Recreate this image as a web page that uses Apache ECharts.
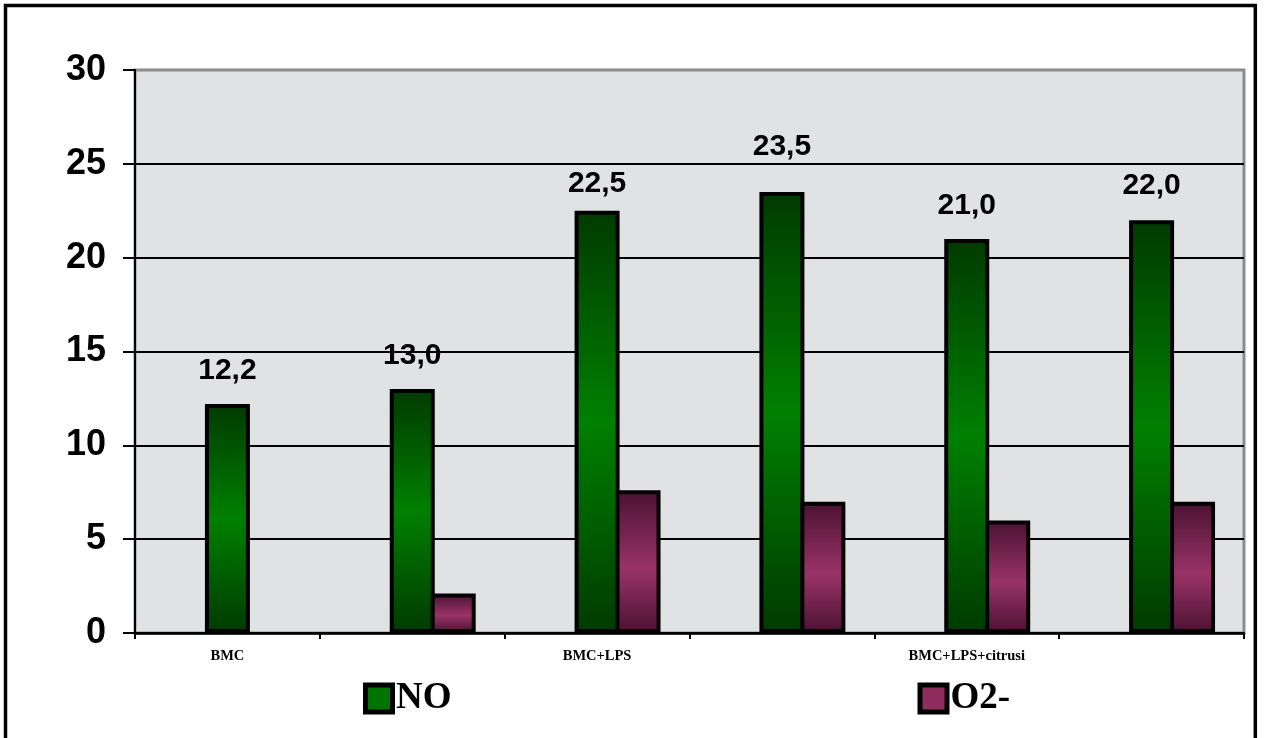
<!DOCTYPE html>
<html>
<head>
<meta charset="utf-8">
<title>NO / O2-</title>
<script src="https://cdn.jsdelivr.net/npm/echarts@6/dist/echarts.min.js"></script>
<style>
  html, body { margin: 0; padding: 0; background: #ffffff; }
  #chart { width: 1265px; height: 738px; }
</style>
</head>
<body>
<div id="chart"></div>
<script>
// Groups along the x axis (only every other one carries a caption)
const categories = ['BMC', '', 'BMC+LPS', '', 'BMC+LPS+citrusi', ''];
// Measured levels per group
const noValues = [12.2, 13.0, 22.5, 23.5, 21.0, 22.0];
const o2Values = ['-', 2.1, 7.6, 7.0, 6.0, 7.0];
// Value axis ticks
const yTicks = [0, 5, 10, 15, 20, 25, 30];
// Extra lift (px) of individual NO value labels
const noLabelLift = [0, 0, -6, 12, 0, 1];

const SANS = "'Liberation Sans', Arial, sans-serif";
const SERIF = "'Liberation Serif', 'Times New Roman', serif";

const greenFill = new echarts.graphic.LinearGradient(0, 0, 0, 1, [
  { offset: 0, color: '#003a00' },
  { offset: 0.5, color: '#008000' },
  { offset: 1, color: '#003a00' }
]);
const purpleFill = new echarts.graphic.LinearGradient(0, 0, 0, 1, [
  { offset: 0, color: '#4a1232' },
  { offset: 0.55, color: '#993366' },
  { offset: 1, color: '#4a1232' }
]);

const fmt = v => Number(v).toFixed(1).replace('.', ',');

const BAR_W = 45;
const BAR_GAP = '-9%';   // neighbouring bars share one black edge

// Legend key boxes with a heavy black frame, drawn as rich-text tokens
const keyBox = color => ({
  width: 22, height: 22,
  backgroundColor: color,
  borderColor: '#000', borderWidth: 5,
  verticalAlign: 'middle'
});

const chart = echarts.init(document.getElementById('chart'), null, { renderer: 'canvas' });

chart.setOption({
  backgroundColor: '#ffffff',
  animation: false,
  graphic: [{
    type: 'rect',
    z: 100,
    silent: true,
    shape: { x: 5.5, y: 5.5, width: 1249.8, height: 800 },
    style: { fill: 'none', stroke: '#000000', lineWidth: 3.5 }
  }],
  grid: {
    left: 135, right: 21, top: 70, bottom: 105,
    show: true,
    backgroundColor: '#e1e2e4',
    borderColor: '#8c8c8c',
    borderWidth: 3
  },
  legend: {
    data: ['NO', 'O2-'],
    left: 357, top: 675,
    itemWidth: 0, itemHeight: 0,
    itemGap: 465,
    formatter: name => (name === 'NO' ? '{g|}' : '{p|}') + '{t|' + name + '}',
    textStyle: {
      fontFamily: SERIF, fontWeight: 'bold', fontSize: 37, color: '#000',
      rich: {
        g: keyBox('#007400'),
        p: keyBox('#8f2d5e'),
        t: {
          fontFamily: SERIF, fontWeight: 'bold', fontSize: 37, color: '#000',
          padding: [0, 0, 0, 6], verticalAlign: 'middle'
        }
      }
    }
  },
  xAxis: {
    type: 'category',
    data: categories,
    axisLine: { lineStyle: { color: '#000', width: 2.5 } },
    axisTick: { show: true, interval: 0, length: 6, lineStyle: { color: '#000', width: 2 } },
    axisLabel: { interval: 0, margin: 16, fontFamily: SERIF, fontWeight: 'bold', fontSize: 14.5, color: '#000' },
    splitLine: { show: false }
  },
  yAxis: {
    type: 'value',
    min: yTicks[0], max: yTicks[yTicks.length - 1], interval: yTicks[1] - yTicks[0],
    axisLine: { show: true, lineStyle: { color: '#000', width: 2 } },
    axisTick: { show: true, inside: false, length: 12, lineStyle: { color: '#000', width: 2 } },
    axisLabel: { margin: 29, fontFamily: SANS, fontWeight: 'bold', fontSize: 36, color: '#000' },
    splitLine: {
      show: true,
      lineStyle: { color: ['#000', '#000', '#000', '#000', '#000', '#000', '#8c8c8c'], width: 2 }
    }
  },
  series: [
    {
      // empty leading slot that keeps the NO bar centred on its group
      name: '',
      type: 'bar',
      data: categories.map(() => '-'),
      barWidth: BAR_W,
      barGap: BAR_GAP
    },
    {
      name: 'NO',
      type: 'bar',
      barWidth: BAR_W,
      barGap: BAR_GAP,
      data: noValues.map((v, i) => ({
        value: v,
        label: { offset: [0, -noLabelLift[i]] }
      })),
      itemStyle: { color: greenFill, borderColor: '#000', borderWidth: 4 },
      label: {
        show: true,
        position: 'top',
        distance: 18,
        formatter: p => fmt(p.value),
        fontFamily: SANS, fontWeight: 'bold', fontSize: 30, color: '#000'
      }
    },
    {
      name: 'O2-',
      type: 'bar',
      barWidth: BAR_W,
      barGap: BAR_GAP,
      data: o2Values,
      itemStyle: { color: purpleFill, borderColor: '#000', borderWidth: 4 }
    }
  ]
});
</script>
</body>
</html>
